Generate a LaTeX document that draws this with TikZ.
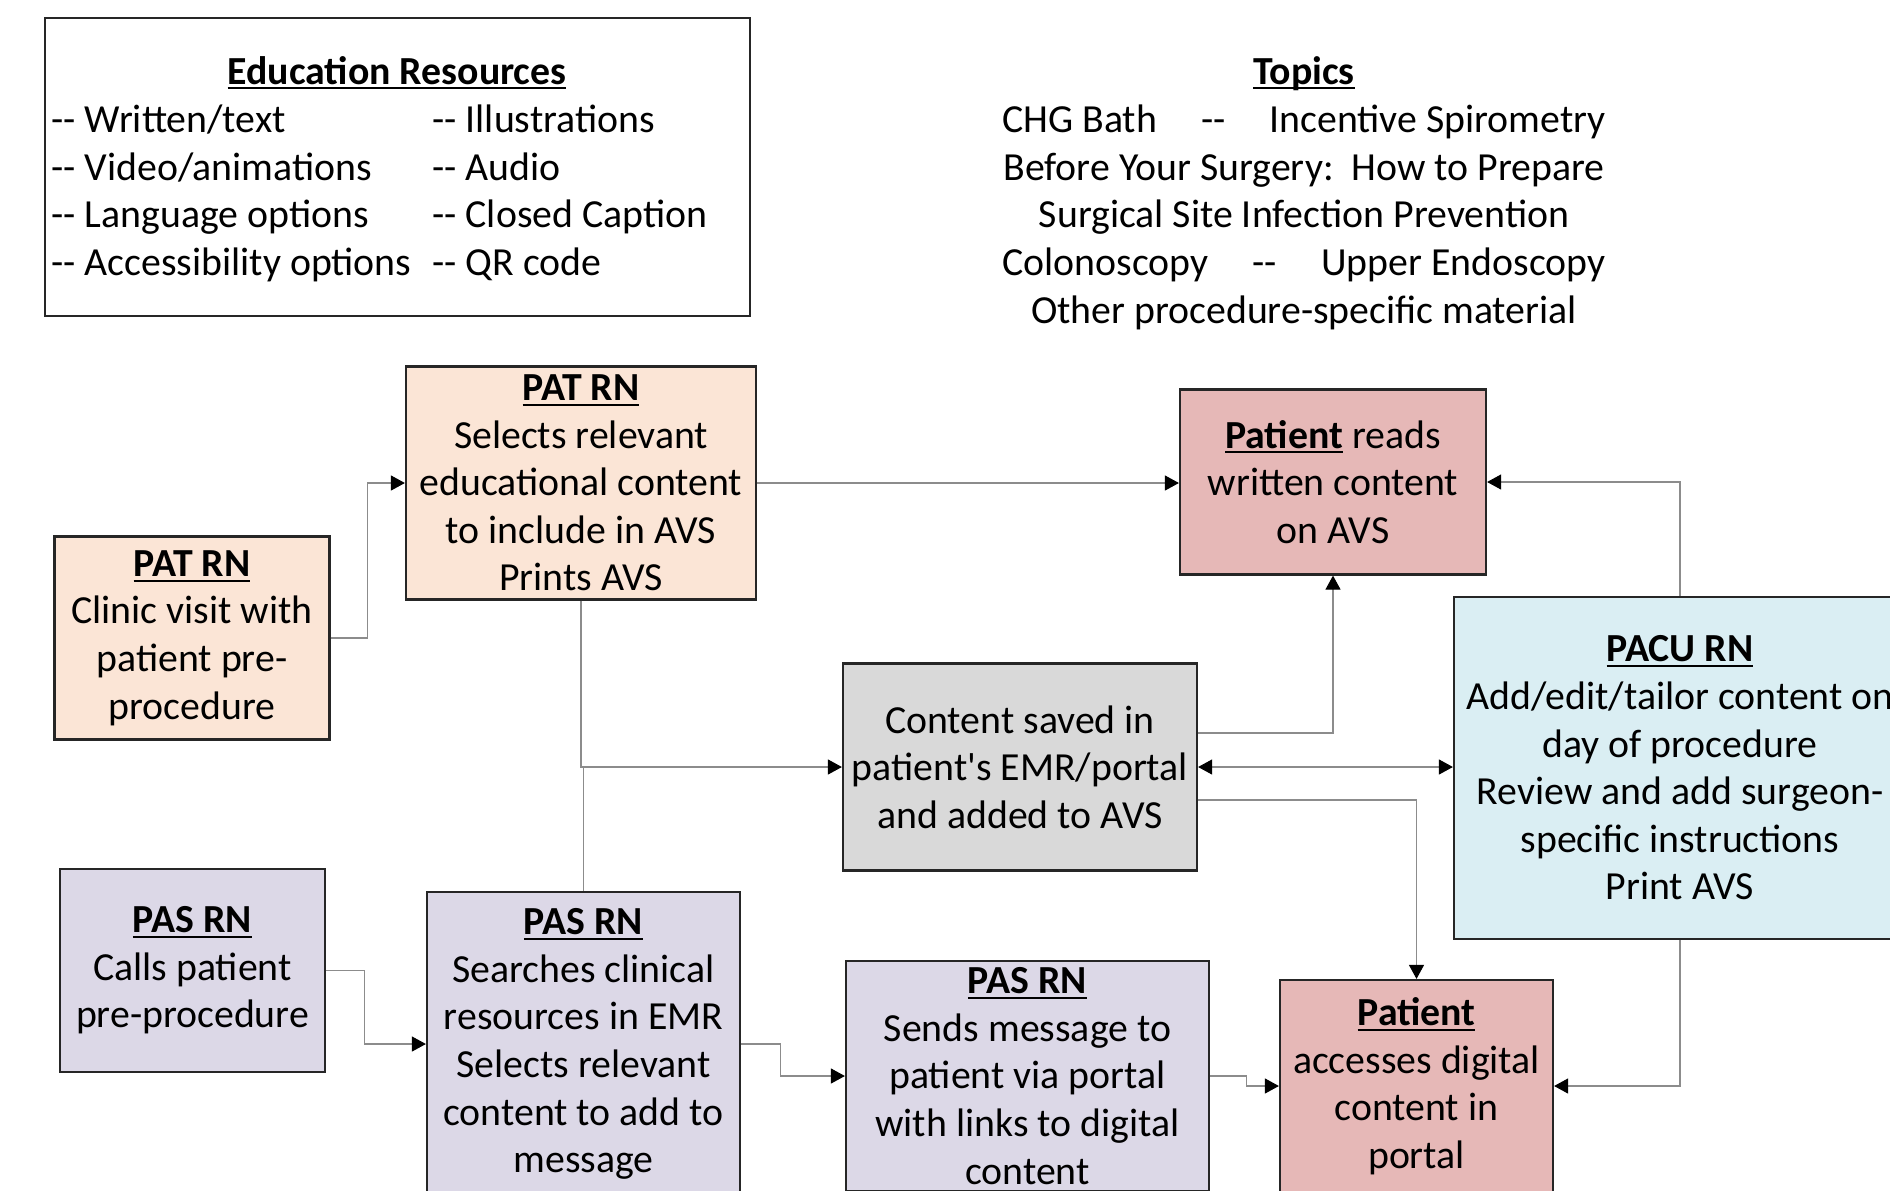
\documentclass[tikz,border=0pt]{standalone}
\usepackage{fontspec}
\setmainfont{Carlito}[Ligatures=TeXOff]
\usepackage{xcolor}
\usepackage{tikz}
\usetikzlibrary{arrows.meta}

\definecolor{patfill}{HTML}{FBE5D6}
\definecolor{ptfill}{HTML}{E6B8B7}
\definecolor{savedfill}{HTML}{D9D9D9}
\definecolor{pacufill}{HTML}{DAEEF3}
\definecolor{pasfill}{HTML}{DCD8E7}
\definecolor{linegray}{HTML}{8C8C8C}

\newcommand{\uhead}[1]{\setbox0=\hbox{\bfseries #1}\rlap{\rule[-2.6pt]{\wd0}{1pt}}\box0\relax}

\begin{document}
\begin{tikzpicture}[x=0.5pt, y=-0.5pt,
    font=\fontsize{19.9}{23.8}\selectfont,
    box/.style={draw=black!85, line width=1.1pt, align=center, inner sep=0pt},
    conn/.style={draw=linegray, line width=0.55pt, -{Triangle[length=7pt, width=7.5pt, color=black]}},
    listitem/.style={anchor=base west, inner sep=0pt},
    topic/.style={anchor=base, inner sep=0pt}]

    \path[use as bounding box, fill=white] (0,0) rectangle (1890,1190);
    \clip (0,0) rectangle (1890,1190);

    % Education resources
    \node[box, minimum width=352.5pt, minimum height=149pt] (edubox) at (397.5,167) {};
    \node[topic] (edutitle) at (397,84) {\uhead{Education Resources}};
    \foreach \txt [count=\i] in {Written/text, Video/animations, Language options, Accessibility options}
      \node[listitem] (eduL\i) at (51, 85+47.6*\i) {-- \txt};
    \foreach \txt [count=\i] in {Illustrations, Audio, Closed Caption, QR code}
      \node[listitem] (eduR\i) at (432, 85+47.6*\i) {-- \txt};

    % Topics
    \node[topic] (topictitle) at (1304,84) {\uhead{Topics}};
    \foreach \txt [count=\i] in {{\makebox[301.5pt]{CHG Bath\hfill--\hfill Incentive Spirometry}},
        {Before Your Surgery:\ \ How to Prepare},
        {Surgical Site Infection Prevention},
        {\makebox[301.5pt]{Colonoscopy\hfill--\hfill Upper Endoscopy}},
        {Other procedure-specific material}}
      \node[topic] (topic\i) at (1304, 85+47.6*\i) {\txt};

    % Boxes
    \node[box, fill=patfill, minimum width=175pt, minimum height=116.5pt] (patsel) at (581,483)
      {\uhead{PAT RN}\\Selects relevant\\educational content\\to include in AVS\\Prints AVS};
    \node[box, fill=patfill, minimum width=137.5pt, minimum height=101.5pt] (patclinic) at (192,638)
      {\uhead{PAT RN}\\Clinic visit with\\patient pre-\\procedure};
    \node[box, fill=ptfill, minimum width=153pt, minimum height=92.5pt] (ptreads) at (1333,482)
      {\uhead{Patient} reads\\written content\\on AVS};
    \node[box, fill=savedfill, minimum width=177pt, minimum height=103.5pt] (saved) at (1020,767)
      {Content saved in\\patient\textquotesingle s EMR/portal\\and added to AVS};
    \node[box, fill=pacufill, minimum width=226pt, minimum height=171pt] (pacu) at (1680,768)
      {\uhead{PACU RN}\\Add/edit/tailor content on\\day of procedure\\Review and add surgeon-\\specific instructions\\Print AVS};
    \node[box, fill=pasfill, minimum width=132.5pt, minimum height=101.5pt] (pascall) at (192.5,970.5)
      {\uhead{PAS RN}\\Calls patient\\pre-procedure};
    \node[box, fill=pasfill, minimum width=156.5pt, minimum height=152pt] (passearch) at (583.5,1044)
      {\uhead{PAS RN}\\Searches clinical\\resources in EMR\\Selects relevant\\content to add to\\message};
    \node[box, fill=pasfill, minimum width=181.5pt, minimum height=115pt] (passend) at (1027.5,1076)
      {\uhead{PAS RN}\\Sends message to\\patient via portal\\with links to digital\\content};
    \node[box, fill=ptfill, minimum width=136.5pt, minimum height=106pt] (ptaccess) at (1416.5,1086)
      {\uhead{Patient}\\accesses digital\\content in\\portal};

    % Connectors
    \draw[conn] (patclinic.east) -- ++(37,0) |- (patsel.west);
    \draw[conn] (patsel.east) -- (patsel.east -| ptreads.west);
    \draw[conn] (patsel.south) |- (saved.west);
    \draw[conn, -] (passearch.north) -- (passearch.north |- saved.west);
    \draw[conn] ([yshift=17pt]saved.east) -| (ptreads.south);
    \draw[conn, {Triangle[length=7pt, width=7.5pt, color=black]}-{Triangle[length=7pt, width=7.5pt, color=black]}]
      (saved.east) -- (saved.east -| pacu.west);
    \draw[conn] ([yshift=-16.5pt]saved.east) -| (ptaccess.north);
    \draw[conn] (pacu.north) |- (ptreads.east);
    \draw[conn] (pacu.south) |- (ptaccess.east);
    \draw[conn] (pascall.east) -- ++(38,0) |- (passearch.west);
    \draw[conn] (passearch.east) -- ++(39,0) |- (passend.west);
    \draw[conn] (passend.east) -- ++(36,0) |- (ptaccess.west);
\end{tikzpicture}
\end{document}
